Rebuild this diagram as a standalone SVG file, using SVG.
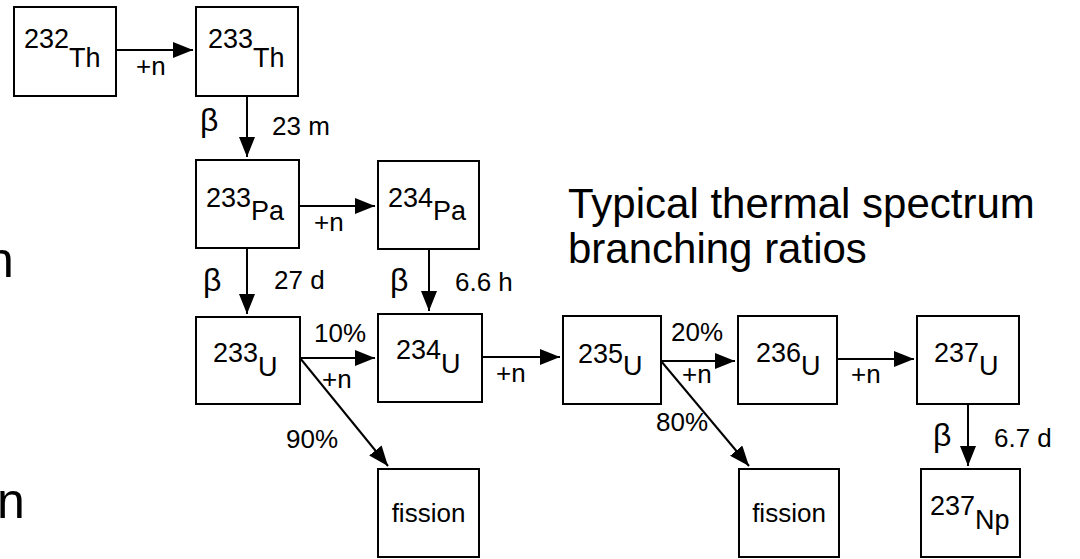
<svg xmlns="http://www.w3.org/2000/svg" width="1080" height="559" viewBox="0 0 1080 559">
<style>
  text { font-family: "Liberation Sans", Arial, sans-serif; fill: #000; }
  .box { fill: #fff; stroke: #000; stroke-width: 2; }
  .nl { font-size: 27px; }
  .fi { font-size: 26px; }
  .el { font-size: 26px; }
  .beta { font-size: 32px; }
  .title { font-size: 42px; }
  .big { font-size: 50px; }
  .edge { stroke: #000; stroke-width: 2; fill: none; marker-end: url(#arr); }
</style>
<defs>
  <marker id="arr" markerUnits="userSpaceOnUse" markerWidth="20" markerHeight="16" refX="20" refY="8" orient="auto">
    <path d="M0,0 L20,8 L0,16 z" fill="#000"/>
  </marker>
</defs>
<rect width="1080" height="559" fill="#fff"/>

<text class="big" x="-14" y="277">n</text>
<text class="big" x="-3" y="518">n</text>

<g id="title">
  <text class="title" x="568" y="218">Typical thermal spectrum</text>
  <text class="title" x="568" y="263">branching ratios</text>
</g>

<g id="connectors">
  <line class="edge" x1="116" y1="50" x2="193" y2="50"/>
  <line class="edge" x1="247" y1="96" x2="247" y2="157"/>
  <line class="edge" x1="299" y1="206" x2="375" y2="206"/>
  <line class="edge" x1="247" y1="248" x2="247" y2="314"/>
  <line class="edge" x1="429" y1="249" x2="429" y2="311"/>
  <line class="edge" x1="300" y1="358" x2="375" y2="358"/>
  <line class="edge" x1="300" y1="358" x2="388" y2="466"/>
  <line class="edge" x1="482" y1="357" x2="560" y2="357"/>
  <line class="edge" x1="661" y1="361" x2="735" y2="361"/>
  <line class="edge" x1="661" y1="361" x2="749" y2="466"/>
  <line class="edge" x1="837" y1="359" x2="914" y2="359"/>
  <line class="edge" x1="968" y1="404" x2="968" y2="466"/>
  <text class="el" x="136" y="75">+n</text>
  <text class="beta" x="200" y="131">β</text>
  <text class="el" x="272" y="135">23 m</text>
  <text class="el" x="314" y="231">+n</text>
  <text class="beta" x="203" y="291">β</text>
  <text class="el" x="274" y="289">27 d</text>
  <text class="beta" x="390" y="291">β</text>
  <text class="el" x="455" y="291">6.6 h</text>
  <text class="el" x="314" y="342">10%</text>
  <text class="el" x="322" y="388">+n</text>
  <text class="el" x="286" y="448">90%</text>
  <text class="el" x="496" y="382">+n</text>
  <text class="el" x="671" y="341">20%</text>
  <text class="el" x="682" y="383">+n</text>
  <text class="el" x="656" y="431">80%</text>
  <text class="el" x="851" y="383">+n</text>
  <text class="beta" x="933" y="446">β</text>
  <text class="el" x="994" y="447">6.7 d</text>
</g>

<g id="th232"><rect class="box" x="14" y="7" width="102" height="89"/><text class="nl" x="24" y="48">232<tspan dy="19">Th</tspan></text></g>
<g id="th233"><rect class="box" x="196" y="7" width="102" height="89"/><text class="nl" x="208" y="48">233<tspan dy="19">Th</tspan></text></g>
<g id="pa233"><rect class="box" x="196" y="160" width="103" height="88"/><text class="nl" x="206" y="207">233<tspan dy="13">Pa</tspan></text></g>
<g id="pa234"><rect class="box" x="378" y="161" width="101" height="88"/><text class="nl" x="388" y="207">234<tspan dy="13">Pa</tspan></text></g>
<g id="u233"><rect class="box" x="196" y="317" width="104" height="87"/><text class="nl" x="213" y="362">233<tspan dy="14">U</tspan></text></g>
<g id="u234"><rect class="box" x="378" y="314" width="104" height="88"/><text class="nl" x="396" y="359">234<tspan dy="14">U</tspan></text></g>
<g id="u235"><rect class="box" x="563" y="316" width="98" height="88"/><text class="nl" x="578" y="363">235<tspan dy="12">U</tspan></text></g>
<g id="u236"><rect class="box" x="738" y="316" width="99" height="88"/><text class="nl" x="756" y="362">236<tspan dy="13">U</tspan></text></g>
<g id="u237"><rect class="box" x="917" y="316" width="102" height="88"/><text class="nl" x="934" y="362">237<tspan dy="13">U</tspan></text></g>
<g id="fission1"><rect class="box" x="378" y="469" width="101" height="88"/><text class="fi" x="428.5" y="522" text-anchor="middle">fission</text></g>
<g id="fission2"><rect class="box" x="739" y="469" width="100" height="88"/><text class="fi" x="789" y="522" text-anchor="middle">fission</text></g>
<g id="np237"><rect class="box" x="921" y="469" width="99" height="88"/><text class="nl" x="930" y="515">237<tspan dy="14">Np</tspan></text></g>
</svg>
